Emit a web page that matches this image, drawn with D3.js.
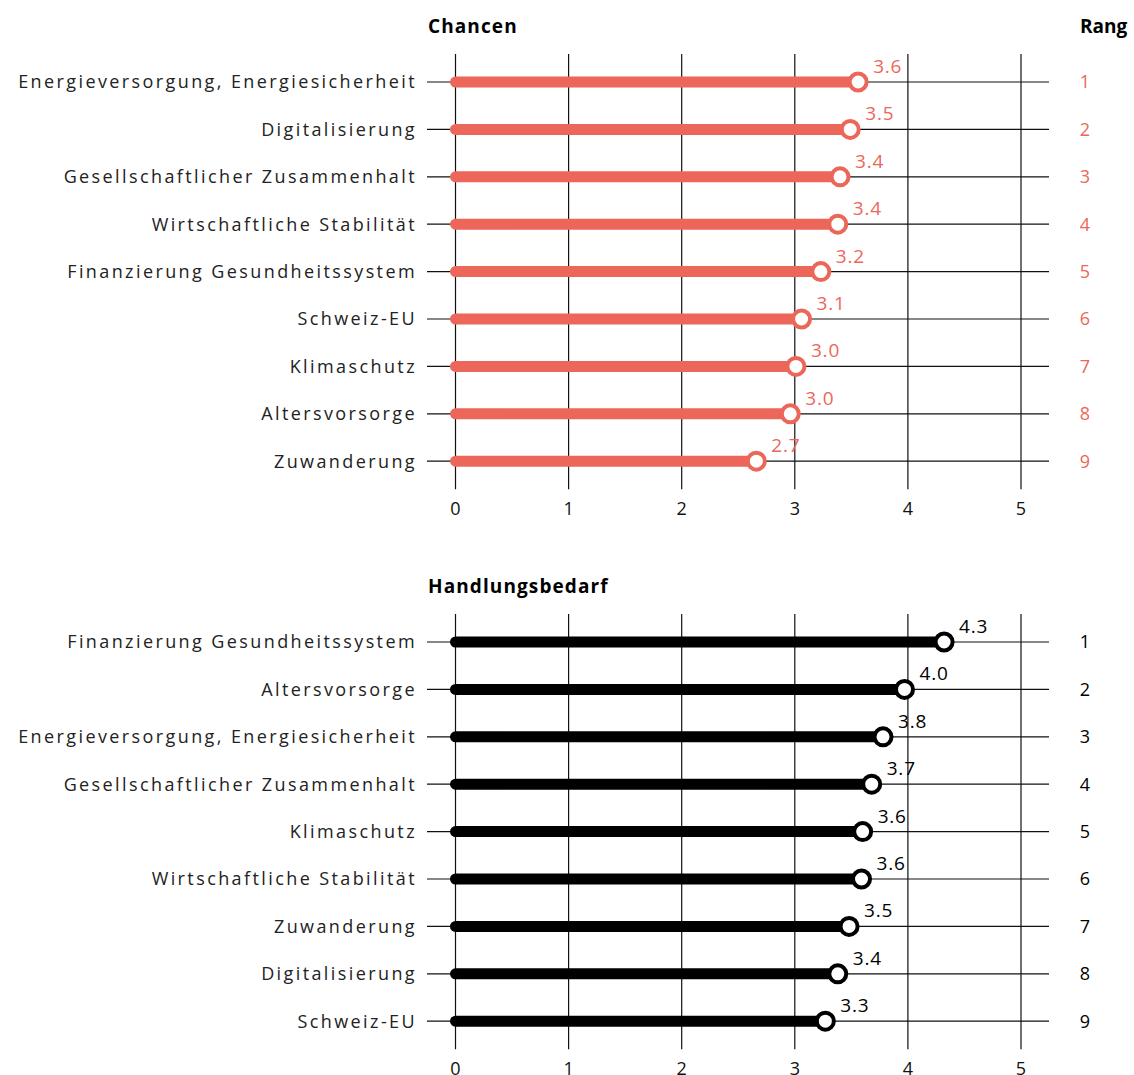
<!DOCTYPE html>
<html><head><meta charset="utf-8">
<script src="https://cdn.jsdelivr.net/npm/d3@7"></script>
<style>
body{margin:0;background:#fff;}
svg{display:block;font-family:"Open Sans",Lato,sans-serif;}
</style></head>
<body><svg id="c" width="1134" height="1075"></svg>
<script>
const chancenCategories = ["Energieversorgung, Energiesicherheit","Digitalisierung","Gesellschaftlicher Zusammenhalt","Wirtschaftliche Stabilität","Finanzierung Gesundheitssystem","Schweiz-EU","Klimaschutz","Altersvorsorge","Zuwanderung"];
const chancenValues = [3.56,3.49,3.40,3.38,3.23,3.06,3.01,2.96,2.66];
const handlungCategories = ["Finanzierung Gesundheitssystem","Altersvorsorge","Energieversorgung, Energiesicherheit","Gesellschaftlicher Zusammenhalt","Klimaschutz","Wirtschaftliche Stabilität","Zuwanderung","Digitalisierung","Schweiz-EU"];
const handlungValues = [4.32,3.97,3.78,3.68,3.60,3.59,3.48,3.38,3.27];
const axisTicks = [0,1,2,3,4,5];
const panelTitles = ["Chancen","Handlungsbedarf"];
const rankTitle = "Rang";

const svg = d3.select("#c");
const x = d3.scaleLinear().domain([0,5]).range([455.5,1021]);
const fmt = d3.format(".1f");

function panel(cats, vals, title, color, firstY, showRang){
  const y = d3.scalePoint().domain(cats).range([firstY, firstY + 8*47.4]);
  const g = svg.append("g");
  const top = firstY - 28, bottom = firstY + 8*47.4 + 28;
  g.append("text").attr("x",428).attr("y",firstY-49).attr("font-weight",700)
    .attr("font-size",19).attr("letter-spacing",1.1).attr("fill","#000").text(title);
  if(showRang) g.append("text").attr("x",1080).attr("y",firstY-49).attr("font-weight",700)
    .attr("font-size",19).attr("fill","#000").text(rankTitle);
  g.selectAll(".vg").data(axisTicks).join("line")
    .attr("x1",d=>x(d)).attr("x2",d=>x(d)).attr("y1",top).attr("y2",bottom)
    .attr("stroke","#111").attr("stroke-width",1.2);
  g.selectAll(".tl").data(axisTicks).join("text")
    .attr("x",d=>x(d)).attr("y",bottom+26).attr("text-anchor","middle")
    .attr("font-size",18).attr("fill","#111").text(d=>d);
  g.selectAll(".rl").data(cats).join("line")
    .attr("x1",427).attr("x2",1049).attr("y1",d=>y(d)).attr("y2",d=>y(d))
    .attr("stroke","#111").attr("stroke-width",1.2);
  g.selectAll(".cl").data(cats).join("text")
    .attr("x",417).attr("y",d=>y(d)).attr("dy","0.35em").attr("text-anchor","end")
    .attr("font-size",18).attr("letter-spacing",2.4).attr("fill","#222").text(d=>d);
  g.selectAll(".bar").data(cats).join("line")
    .attr("x1",x(0)).attr("x2",(d,i)=>x(vals[i])).attr("y1",d=>y(d)).attr("y2",d=>y(d))
    .attr("stroke",color).attr("stroke-width",11).attr("stroke-linecap","round");
  g.selectAll(".dot").data(cats).join("circle")
    .attr("cx",(d,i)=>x(vals[i])).attr("cy",d=>y(d)).attr("r",8.5)
    .attr("fill","#fff").attr("stroke",color).attr("stroke-width",4);
  g.selectAll(".vl").data(cats).join("text")
    .attr("x",(d,i)=>x(vals[i])+15).attr("y",d=>y(d)-9)
    .attr("font-size",19).attr("letter-spacing",0.8).attr("fill",color).text((d,i)=>fmt(vals[i]));
  g.selectAll(".rk").data(cats).join("text")
    .attr("x",1085).attr("y",d=>y(d)).attr("dy","0.35em").attr("text-anchor","middle")
    .attr("font-size",18).attr("fill",color).text((d,i)=>i+1);
}
panel(chancenCategories, chancenValues, panelTitles[0], "#EC675A", 82, true);
panel(handlungCategories, handlungValues, panelTitles[1], "#000", 642, false);
</script></body></html>
